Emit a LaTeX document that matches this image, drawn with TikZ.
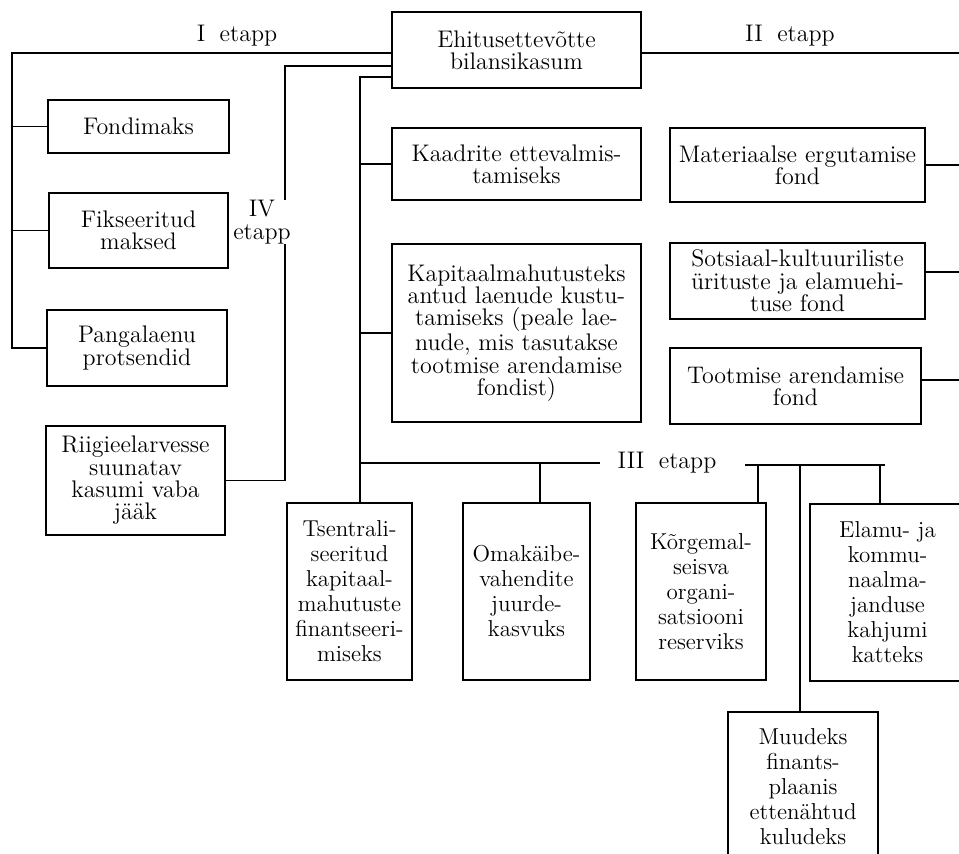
\documentclass[tikz,border=0pt]{standalone}
\usepackage{tikz}

\newcommand{\fs}{\fontsize{12}{11.2}\selectfont}
\newcommand{\fsb}{\fontsize{11.5}{12.5}\selectfont}

\begin{document}
\begin{tikzpicture}[x=0.5pt,y=0.5pt,yscale=-1,xscale=1,
  box/.style={draw,line width=0.7pt,align=center,inner sep=1pt,font=\fs},
  mainbox/.style={box,line width=1.4pt},
  tallbox/.style={box,font=\fsb,minimum height=88.5pt},
  stage/.style={font=\fs,inner sep=1pt},
  link/.style={line width=0.6pt}]
\useasboundingbox (0,0) rectangle (959,853);

%Main box
\node [mainbox, minimum width=124.5pt, minimum height=38pt] (ehit) at (516.5,50) {Ehitusettevõtte\\bilansikasum};

%Left column (I etapp)
\node [box, minimum width=90.5pt, minimum height=26.5pt] (fondi) at (138.5,126.5) {Fondimaks};
\node [box, minimum width=89.5pt, minimum height=37.5pt] (fiks) at (138.5,230.5) {Fikseeritud\\maksed};
\node [box, minimum width=90pt, minimum height=38pt] (pank) at (137,348) {Pangalaenu\\protsendid};
\node [box, minimum width=89.5pt, minimum height=54.5pt] (riik) at (135.5,480.5) {Riigieelarvesse\\suunatav\\kasumi vaba\\jääk};

%Middle column
\node [box, minimum width=124.5pt, minimum height=36pt] (kaad) at (516.5,164) {Kaadrite ettevalmis-\\tamiseks};
\node [box, minimum width=124.5pt, minimum height=89pt] (kapit) at (516.5,333) {Kapitaalmahutusteks\\antud laenude kustu-\\tamiseks (peale lae-\\nude, mis tasutakse\\tootmise arendamise\\fondist)};

%Right column (II etapp)
\node [box, minimum width=127.5pt, minimum height=37pt] (mater) at (797.5,165) {Materiaalse ergutamise\\fond};
\node [box, minimum width=127.5pt, minimum height=38pt] (sots) at (797.5,281) {Sotsiaal-kultuuriliste\\ürituste ja elamuehi-\\tuse fond};
\node [box, minimum width=125.5pt, minimum height=38pt] (toot) at (795.5,386) {Tootmise arendamise\\fond};

%Bottom row (III etapp)
\node [tallbox, minimum width=62.5pt] (tsen) at (349.5,591.5) {Tsentrali-\\seeritud\\kapitaal-\\mahutuste\\finantseeri-\\miseks};
\node [tallbox, minimum width=63.5pt] (omak) at (526.5,591.5) {Omakäibe-\\vahendite\\juurde-\\kasvuks};
\node [tallbox, minimum width=65pt] (korg) at (701,591.5) {Kõrgemal-\\seisva\\organi-\\satsiooni\\reserviks};
\node [tallbox, minimum width=77.5pt] (elamu) at (887.5,592.5) {Elamu- ja\\kommu-\\naalma-\\janduse\\kahjumi\\katteks};
\node [tallbox, minimum width=75pt, minimum height=75pt] (muud) at (803,787) {Muudeks\\finants-\\plaanis\\ettenähtud\\kuludeks};

%Buses
\coordinate (bI) at (12,53);
\coordinate (bII) at (959,53);
\coordinate (bIII) at (360,77);
\coordinate (bIV) at (285,66);
\coordinate (hIII) at (360,463);
\coordinate (hIIIa) at (600,463);
\coordinate (hIIIb) at (745,465);
\coordinate (hIIIc) at (885,465);

% I etapp
\draw [link] (bI -| ehit.west) -- (bI) |- (pank.west);
\draw [link] (fondi.west -| bI) -- (fondi.west);
\draw [link] (fiks.west -| bI) -- (fiks.west);
\node [stage, anchor=south] (lI) at (237,49) {I\; etapp};

% II etapp
\draw [link] (bII -| ehit.east) -- (bII);
\draw [link] (mater.east) -- (mater.east -| bII);
\draw [link] (sots.east |- 0,272) -- (959,272);
\draw [link] (toot.east |- 0,380) -- (959,380);
\node [stage, anchor=south] (lII) at (790,49) {II\; etapp};

% III etapp
\draw [link] (bIII -| ehit.west) -- (bIII) -- (bIII |- tsen.north);
\draw [link] (kaad.west -| bIII) -- (kaad.west);
\draw [link] (kapit.west -| bIII) -- (kapit.west);
\draw [link] (hIII) -- (hIIIa);
\draw [link] (hIIIb) -- (hIIIc);
\node [stage] (lIII) at (667,463) {III\; etapp};
\draw [link] (540,463) -- (540,463 |- omak.north);
\draw [link] (758,465) -- (758,465 |- korg.north);
\draw [link] (800,465) -- (800,465 |- muud.north);
\draw [link] (880,465) -- (880,465 |- elamu.north);

% IV etapp
\draw [link] (bIV -| ehit.west) -- (bIV) |- (riik.east);
\node [stage, fill=white, align=center, inner sep=0.3pt] (lIV) at (262,222) {IV\\etapp};

\end{tikzpicture}
\end{document}
